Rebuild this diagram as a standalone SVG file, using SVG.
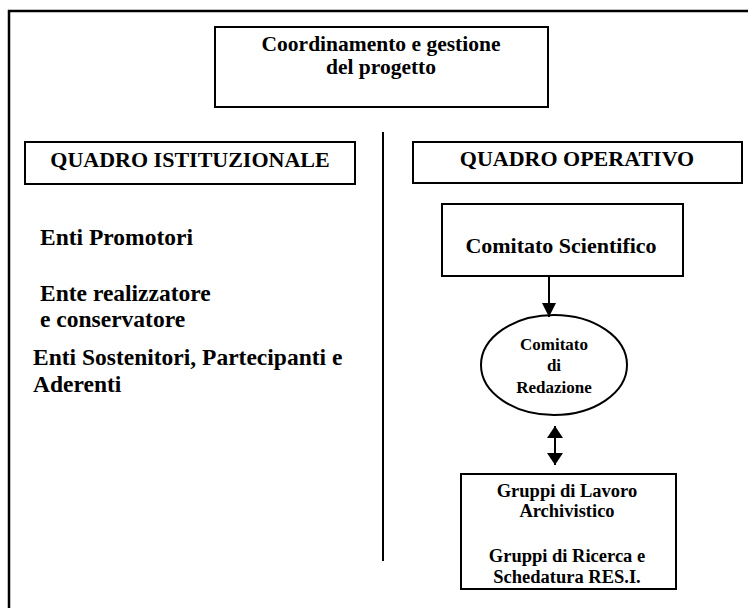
<svg xmlns="http://www.w3.org/2000/svg" width="748" height="608" viewBox="0 0 748 608">
<defs>
<style>
text{font-family:"Liberation Serif","Times New Roman",serif;font-weight:bold;fill:#000}
.box{fill:#fff;stroke:#000;stroke-width:2}
.ln{stroke:#000;stroke-width:2;fill:none}
.c{text-anchor:middle}
.h{font-size:22px}
.t{font-size:21.5px}
.m{font-size:23.5px}
.s{font-size:17px}
.b{font-size:18.5px}
</style>
<marker id="ah" viewBox="0 0 14 14" refX="14" refY="7" markerWidth="14" markerHeight="14" markerUnits="userSpaceOnUse" orient="auto-start-reverse">
<path d="M0,0 L14,7 L0,14 Z" fill="#000"/>
</marker>
<marker id="ah2" viewBox="0 0 12 16" refX="12" refY="8" markerWidth="12" markerHeight="16" markerUnits="userSpaceOnUse" orient="auto-start-reverse">
<path d="M0,0 L12,8 L0,16 Z" fill="#000"/>
</marker>
</defs>
<rect x="0" y="0" width="748" height="608" fill="#fff"/>
<rect id="frame" x="9" y="11" width="760" height="640" fill="none" stroke="#000" stroke-width="2.5"/>
<g id="coordinamento">
<rect class="box" x="215" y="27" width="333" height="80"/>
<text class="c t" x="381" y="51">Coordinamento e gestione</text>
<text class="c t" x="381" y="74">del progetto</text>
</g>
<g id="quadro-istituzionale">
<rect class="box" x="25" y="142" width="330" height="42"/>
<text class="c h" x="190" y="167">QUADRO ISTITUZIONALE</text>
</g>
<g id="quadro-operativo">
<rect class="box" x="413" y="142" width="329" height="41"/>
<text class="c h" x="577" y="166">QUADRO OPERATIVO</text>
</g>
<g id="enti-promotori"><text class="m" x="40" y="245">Enti Promotori</text></g>
<g id="ente-realizzatore">
<text class="m" x="40" y="301">Ente realizzatore</text>
<text class="m" x="40" y="327">e conservatore</text>
</g>
<g id="enti-sostenitori">
<text class="m" x="33" y="365">Enti Sostenitori, Partecipanti e</text>
<text class="m" x="33" y="392">Aderenti</text>
</g>
<g id="comitato-scientifico">
<rect class="box" x="442" y="204" width="241" height="72"/>
<text class="c h" x="561" y="253">Comitato Scientifico</text>
</g>
<g id="comitato-redazione">
<ellipse class="box" cx="554" cy="365" rx="73" ry="50"/>
<text class="c s" x="554" y="350">Comitato</text>
<text class="c s" x="554" y="371">di</text>
<text class="c s" x="554" y="393">Redazione</text>
</g>
<g id="gruppi">
<rect class="box" x="461" y="474" width="215" height="115"/>
<text class="c b" x="567" y="497">Gruppi di Lavoro</text>
<text class="c b" x="567" y="517">Archivistico</text>
<text class="c b" x="567" y="562">Gruppi di Ricerca e</text>
<text class="c b" x="567" y="583">Schedatura RES.I.</text>
</g>
<g id="connectors">
<line class="ln" x1="383" y1="132" x2="383" y2="561"/>
<line class="ln" x1="549" y1="276" x2="549" y2="317" marker-end="url(#ah)"/>
<line class="ln" x1="555" y1="426" x2="555" y2="465" marker-start="url(#ah2)" marker-end="url(#ah2)"/>
</g>
</svg>
